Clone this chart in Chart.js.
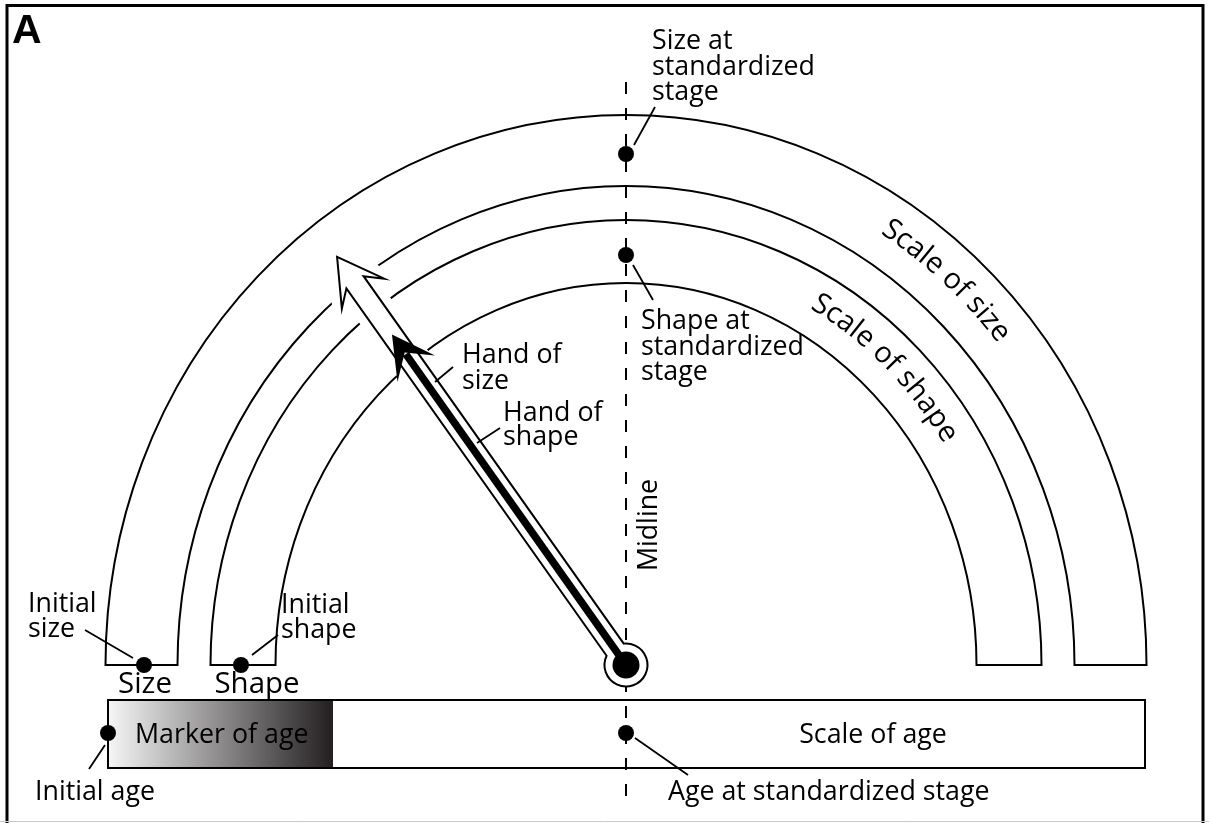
<!DOCTYPE html>
<html><head><meta charset="utf-8">
<script src="https://cdn.jsdelivr.net/npm/chart.js@4.4.0/dist/chart.umd.min.js"></script>
<style>html,body{margin:0;padding:0;background:#fff;overflow:hidden}#wrap{width:1209px;height:823px;position:relative}</style>
</head><body><div id="wrap"><canvas id="c"></canvas></div>
<script>
// Diagram coordinates: origin at the dial hub, y upward
const xRange = [-626, 583];
const yRange = [-158, 665];

// Dial scales (elliptical bands) – ends rest on y = 0
const bandNames = ['Scale of size', 'Scale of shape'];
const bandOuterRx = [520.5, 415.5];
const bandOuterRy = [550, 445];
const bandInnerRx = [448.5, 350.5];
const bandInnerRy = [479, 382];
const bandLabelAngle = [41.5, 43.3];        // degrees clockwise from midline

// Hands
const handNames = ['Hand of size', 'Hand of shape'];
const handAngle = [-35.3, -35.3];           // degrees from midline (negative = left)
const handLength = [500, 405];

// Age scale
const ageScale = [-518, 519];
const ageBarY = [-103, -35];
const markerOfAge = -293;

// Reference points
const pointNames = ['Size at standardized stage', 'Shape at standardized stage', 'Initial size', 'Initial shape', 'Initial age', 'Age at standardized stage'];
const pointX = [0, 0, -482, -385, -518, 0];
const pointY = [511, 410, 0, 0, -68, -68];

// Midline extent
const midlineY = [-135, 583];

// Annotations: text lines [text, x, y, align, sizeFactor]
const labelLines = [
  ['Size at', 26, 616, 'left', 1], ['standardized', 26, 590, 'left', 1], ['stage', 26, 565, 'left', 1],
  ['Shape at', 15, 336, 'left', 1], ['standardized', 15, 310, 'left', 1], ['stage', 15, 285, 'left', 1],
  ['Hand of', -164, 302, 'left', 1], ['size', -164, 276, 'left', 1],
  ['Hand of', -123, 244, 'left', 1], ['shape', -123, 220, 'left', 1],
  ['Initial', -598, 53, 'left', 1], ['size', -598, 28, 'left', 1],
  ['Initial', -345, 52, 'left', 1], ['shape', -345, 27, 'left', 1],
  ['Size', -481, -28, 'center', 1.1], ['Shape', -369, -28, 'center', 1.1],
  ['Marker of age', -491, -78, 'left', 1], ['Scale of age', 247, -78, 'center', 1],
  ['Initial age', -591, -135, 'left', 1], ['Age at standardized stage', 42, -135, 'left', 1]
];
// Leader lines [x1, y1, x2, y2]
const leaders = [
  [8, 520, 29, 558], [7, 400, 27, 365], [-493, 7, -541, 35], [-374, 10, -348, 30],
  [-521, -80, -537, -104], [9, -73, 62, -110], [-191, 283, -173, 298], [-149, 222, -126, 237]
];

const FONT = '"Open Sans", "Noto Sans", sans-serif';

const diagram = {
  id: 'diagram',
  beforeDatasetsDraw(chart) {
    const ctx = chart.ctx, sx = chart.scales.x, sy = chart.scales.y;
    const X = v => sx.getPixelForValue(v), Y = v => sy.getPixelForValue(v);
    const cx = X(0), cy = Y(0);
    const kx = X(1) - X(0), ky = Y(0) - Y(1);
    ctx.save();
    ctx.lineJoin = 'miter'; ctx.lineCap = 'butt';
    // bands
    for (let i = 0; i < bandNames.length; i++) {
      ctx.beginPath();
      ctx.ellipse(cx, cy, bandOuterRx[i] * kx, bandOuterRy[i] * ky, 0, Math.PI, 2 * Math.PI);
      ctx.ellipse(cx, cy, bandInnerRx[i] * kx, bandInnerRy[i] * ky, 0, 2 * Math.PI, Math.PI, true);
      ctx.closePath();
      ctx.fillStyle = '#fff'; ctx.fill();
      ctx.lineWidth = 2; ctx.strokeStyle = '#000'; ctx.stroke();
    }
    // hand geometry
    const phi = handAngle[0] * Math.PI / 180;
    let ux = Math.sin(phi) * kx, uy = -Math.cos(phi) * ky;
    const n = Math.hypot(ux, uy); ux /= n; uy /= n;
    const vx = -uy, vy = ux;
    const P = (s, t) => [cx + s * ux + t * vx, cy + s * uy + t * vy];
    const Ls = handLength[0] * ky;
    const w = 10.5, ringR = 21.5;
    const s0 = Math.sqrt(ringR * ringR - w * w);
    const headPts = [[Ls - 31, w], [Ls - 45, 26], [Ls, 0], [Ls - 45, -26], [Ls - 31, -w], [s0, -w]];
    // halo of hand of size (cuts the scales)
    ctx.beginPath();
    ctx.moveTo(...P(s0 + 8, w));
    headPts.slice(0, 5).forEach(p => ctx.lineTo(...P(p[0], p[1])));
    ctx.lineTo(...P(s0 + 8, -w));
    ctx.closePath();
    ctx.fillStyle = '#fff'; ctx.fill();
    ctx.lineWidth = 19; ctx.strokeStyle = '#fff'; ctx.lineJoin = 'round'; ctx.stroke();
    ctx.lineJoin = 'miter';
    // age bar
    const bx0 = X(ageScale[0]), bx1 = X(ageScale[1]), by0 = Y(ageBarY[1]), by1 = Y(ageBarY[0]);
    ctx.fillStyle = '#fff'; ctx.fillRect(bx0, by0, bx1 - bx0, by1 - by0);
    const mx = X(markerOfAge);
    const g = ctx.createLinearGradient(bx0, 0, mx, 0);
    g.addColorStop(0, '#f6f6f6'); g.addColorStop(1, '#231f20');
    ctx.fillStyle = g; ctx.fillRect(bx0, by0, mx - bx0, by1 - by0);
    ctx.lineWidth = 2; ctx.strokeStyle = '#000'; ctx.strokeRect(bx0, by0, bx1 - bx0, by1 - by0);
    // midline
    ctx.beginPath(); ctx.setLineDash([12, 14]);
    ctx.moveTo(cx, Y(midlineY[1])); ctx.lineTo(cx, Y(midlineY[0]));
    ctx.lineWidth = 2; ctx.stroke(); ctx.setLineDash([]);
    // hand of size (hollow arrow with ring)
    const a0 = Math.atan2(uy, ux), d = Math.asin(w / ringR);
    ctx.beginPath();
    ctx.moveTo(...P(s0, w));
    headPts.forEach(p => ctx.lineTo(...P(p[0], p[1])));
    ctx.arc(cx, cy, ringR, a0 - d, a0 + d, true);
    ctx.closePath();
    ctx.fillStyle = '#fff'; ctx.fill();
    ctx.lineWidth = 2; ctx.strokeStyle = '#000'; ctx.stroke();
    // hand of shape (solid)
    const Lh = handLength[1] * ky;
    ctx.beginPath(); ctx.moveTo(cx, cy); ctx.lineTo(...P(Lh - 24, 0));
    ctx.lineWidth = 7.5; ctx.stroke();
    ctx.beginPath();
    ctx.moveTo(...P(Lh, 0)); ctx.lineTo(...P(Lh - 42, 23)); ctx.lineTo(...P(Lh - 22, 0)); ctx.lineTo(...P(Lh - 42, -23));
    ctx.closePath(); ctx.fillStyle = '#000'; ctx.fill();
    ctx.beginPath(); ctx.arc(cx, cy, 13.5, 0, 2 * Math.PI); ctx.fill();
    ctx.restore();
  },
  afterDatasetsDraw(chart) {
    const ctx = chart.ctx, sx = chart.scales.x, sy = chart.scales.y;
    const X = v => sx.getPixelForValue(v), Y = v => sy.getPixelForValue(v);
    const cx = X(0), cy = Y(0);
    const kx = X(1) - X(0), ky = Y(0) - Y(1);
    ctx.save();
    ctx.font = '100px ' + FONT;
    const F = 100 * 163 / ctx.measureText('standardized').width;
    ctx.fillStyle = '#000'; ctx.strokeStyle = '#000';
    // leaders
    ctx.lineWidth = 1.8;
    leaders.forEach(l => { ctx.beginPath(); ctx.moveTo(X(l[0]), Y(l[1])); ctx.lineTo(X(l[2]), Y(l[3])); ctx.stroke(); });
    // labels
    ctx.textBaseline = 'alphabetic';
    labelLines.forEach(l => {
      ctx.font = (F * l[4]).toFixed(2) + 'px ' + FONT;
      ctx.textAlign = l[3];
      ctx.fillText(l[0], X(l[1]), Y(l[2]));
    });
    // midline label
    ctx.font = F.toFixed(2) + 'px ' + FONT;
    ctx.save(); ctx.translate(X(31), Y(140)); ctx.rotate(-Math.PI / 2);
    ctx.textAlign = 'center'; ctx.fillText('Midline', 0, 0); ctx.restore();
    // scale labels along bands
    for (let i = 0; i < bandNames.length; i++) {
      const a = ((bandOuterRx[i] + bandInnerRx[i]) / 2 - 5) * kx;
      const b = ((bandOuterRy[i] + bandInnerRy[i]) / 2 - 5) * ky;
      ctx.font = (F * 1.08).toFixed(2) + 'px ' + FONT;
      const N = 3000, ts = [], ls = [];
      let L = 0, px = cx, py = cy - b;
      for (let k = 0; k <= N; k++) {
        const t = k / N * (Math.PI / 2);
        const x = cx + a * Math.sin(t), y = cy - b * Math.cos(t);
        L += Math.hypot(x - px, y - py); px = x; py = y;
        ts.push(t); ls.push(L);
      }
      const tAt = s => { let k = 0; while (k < N && ls[k] < s) k++; return ts[k]; };
      const tc = bandLabelAngle[i] * Math.PI / 180;
      const sc = ls[Math.round(tc / (Math.PI / 2) * N)];
      const text = bandNames[i];
      const W = ctx.measureText(text).width;
      ctx.textAlign = 'center';
      for (let j = 0; j < text.length; j++) {
        const off = ctx.measureText(text.slice(0, j)).width;
        const cw = ctx.measureText(text[j]).width;
        const t = tAt(sc - W / 2 + off + cw / 2);
        const x = cx + a * Math.sin(t), y = cy - b * Math.cos(t);
        const ang = Math.atan2(b * Math.sin(t), a * Math.cos(t));
        ctx.save(); ctx.translate(x, y); ctx.rotate(ang); ctx.fillText(text[j], 0, 0); ctx.restore();
      }
    }
    // panel letter
    ctx.font = 'bold 41px "Liberation Sans", Arial, sans-serif';
    ctx.textAlign = 'left';
    ctx.fillText('A', 12, 43);
    // panel frame
    ctx.lineWidth = 3; ctx.strokeStyle = '#000';
    ctx.beginPath(); ctx.moveTo(7, 840); ctx.lineTo(7, 5.5); ctx.lineTo(1203, 5.5); ctx.lineTo(1203, 840); ctx.stroke();
    ctx.lineWidth = 1; ctx.strokeStyle = '#c8c8c8';
    ctx.beginPath(); ctx.moveTo(0, 821.5); ctx.lineTo(1209, 821.5); ctx.stroke();
    ctx.restore();
  }
};

new Chart(document.getElementById('c'), {
  type: 'scatter',
  data: {
    datasets: [{
      label: 'Reference points',
      data: pointX.map((x, i) => ({ x: x, y: pointY[i], name: pointNames[i] })),
      pointRadius: 8, pointHoverRadius: 8, backgroundColor: '#000', borderColor: '#000', borderWidth: 0
    }]
  },
  options: {
    responsive: true, maintainAspectRatio: false, animation: false, events: [],
    layout: { padding: 0, autoPadding: false },
    plugins: { legend: { display: false }, tooltip: { enabled: false } },
    scales: {
      x: { type: 'linear', min: xRange[0], max: xRange[1], display: false },
      y: { type: 'linear', min: yRange[0], max: yRange[1], display: false }
    }
  },
  plugins: [diagram]
});
</script></body></html>
